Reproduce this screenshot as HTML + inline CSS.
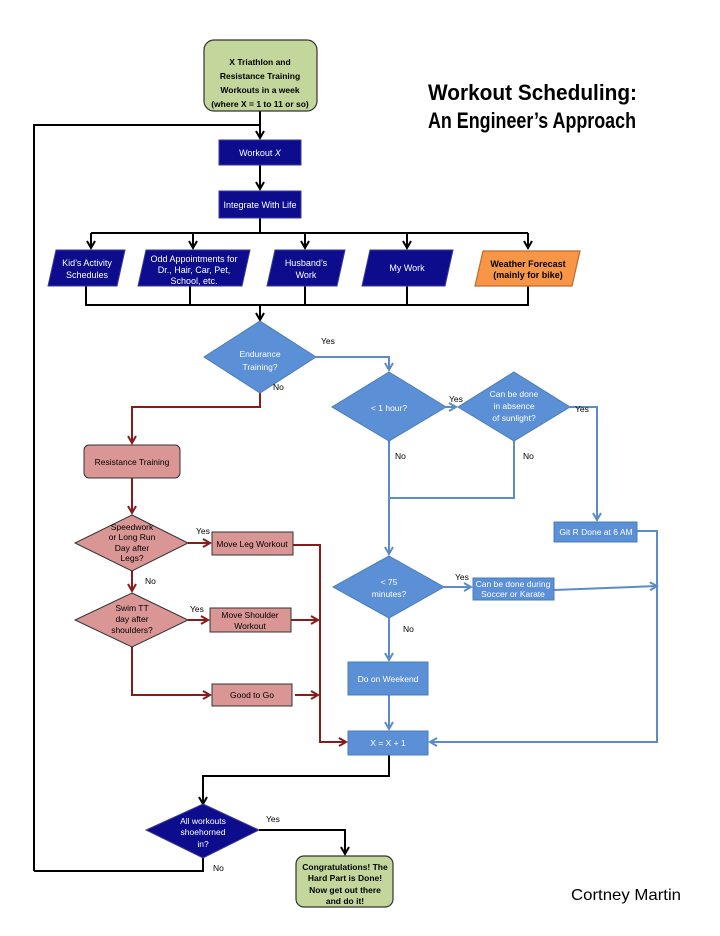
<!DOCTYPE html>
<html><head><meta charset="utf-8"><style>
html,body{margin:0;padding:0;background:#fff}
svg{display:block}
text{font-family:"Liberation Sans",sans-serif}
</style></head><body>
<svg width="720" height="936" viewBox="0 0 720 936" xmlns="http://www.w3.org/2000/svg">
<defs>
<marker id="ak" markerWidth="10" markerHeight="10" refX="8" refY="5" orient="auto" markerUnits="userSpaceOnUse"><path d="M1,1 L8,5 L1,9" fill="none" stroke="#000" stroke-width="2"/></marker>
<marker id="ar" markerWidth="10" markerHeight="10" refX="8" refY="5" orient="auto" markerUnits="userSpaceOnUse"><path d="M1,1 L8,5 L1,9" fill="none" stroke="#8b1a1a" stroke-width="2"/></marker>
<marker id="ab" markerWidth="10" markerHeight="10" refX="8" refY="5" orient="auto" markerUnits="userSpaceOnUse"><path d="M1,1 L8,5 L1,9" fill="none" stroke="#5b8bc9" stroke-width="2"/></marker>
</defs>

<!-- title -->
<text x="428" y="100" font-size="22" font-weight="bold" fill="#000" textLength="209" lengthAdjust="spacingAndGlyphs">Workout Scheduling:</text>
<text x="428" y="128" font-size="22" font-weight="bold" fill="#000" textLength="208" lengthAdjust="spacingAndGlyphs">An Engineer’s Approach</text>
<text x="571" y="900" font-size="16" fill="#000" textLength="110" lengthAdjust="spacingAndGlyphs">Cortney Martin</text>

<!-- black connectors -->
<g fill="none" stroke="#000" stroke-width="2">
<path d="M260,111 V138" marker-end="url(#ak)"/>
<path d="M34,871 V125 H260"/>
<path d="M260,165 V189" marker-end="url(#ak)"/>
<path d="M260,218 V233"/>
<path d="M91,233 H528"/>
<path d="M91,233 V248" marker-end="url(#ak)"/>
<path d="M193,233 V248" marker-end="url(#ak)"/>
<path d="M305,233 V248" marker-end="url(#ak)"/>
<path d="M407,233 V248" marker-end="url(#ak)"/>
<path d="M528,233 V248" marker-end="url(#ak)"/>
<path d="M86,286 V305 H528 V286"/>
<path d="M190,286 V305 M305,286 V305 M407,286 V305"/>
<path d="M260,305 V320" marker-end="url(#ak)"/>
<path d="M389,755 V776 H203 V804" marker-end="url(#ak)"/>
<path d="M259,830 H345 V854" marker-end="url(#ak)"/>
<path d="M203,858 V871 H34"/>
</g>

<!-- red connectors -->
<g fill="none" stroke="#8b1a1a" stroke-width="2">
<path d="M260,393 V407 H132 V443" marker-end="url(#ar)"/>
<path d="M132,478 V513" marker-end="url(#ar)"/>
<path d="M188,543 H210" marker-end="url(#ar)"/>
<path d="M132,571 V591" marker-end="url(#ar)"/>
<path d="M188,620 H208" marker-end="url(#ar)"/>
<path d="M132,647 V695 H210" marker-end="url(#ar)"/>
<path d="M293,545 H320 V742 H346" marker-end="url(#ar)"/>
<path d="M291,620 H318" marker-end="url(#ar)"/>
<path d="M295,695 H318" marker-end="url(#ar)"/>
</g>

<!-- blue connectors -->
<g fill="none" stroke="#5b8bc9" stroke-width="2">
<path d="M316,357 H389 V370" marker-end="url(#ab)"/>
<path d="M446,407 H456" marker-end="url(#ab)"/>
<path d="M570,407 H597 V520" marker-end="url(#ab)"/>
<path d="M389,441 V554" marker-end="url(#ab)"/>
<path d="M514,441 V498 H389"/>
<path d="M444,587 H471" marker-end="url(#ab)"/>
<path d="M554,590 L657,586" marker-end="url(#ab)"/>
<path d="M637,531 H657 V742 H430" marker-end="url(#ab)"/>
<path d="M389,618 V660" marker-end="url(#ab)"/>
<path d="M389,695 V729" marker-end="url(#ab)"/>
</g>

<!-- start box -->
<rect x="204" y="40" width="113" height="71" rx="10" fill="#c3d69b" stroke="#333" stroke-width="1.2"/>
<g font-size="8.5" font-weight="bold" text-anchor="middle" fill="#000">
<text x="260" y="65">X Triathlon and</text>
<text x="260" y="79">Resistance Training</text>
<text x="260" y="93">Workouts in a week</text>
<text x="260" y="107">(where X = 1 to 11 or so)</text>
</g>

<!-- dark blue boxes -->
<g fill="#0c0c8c" stroke="#3a3a9a" stroke-width="1">
<rect x="219" y="140" width="82" height="25"/>
<rect x="219" y="191" width="82" height="27"/>
<polygon points="56,250 125,250 117,286 48,286"/>
<polygon points="146,250 250,250 242,286 138,286"/>
<polygon points="275,250 345,250 337,286 267,286"/>
<polygon points="370,250 453,250 445,286 362,286"/>
</g>
<polygon points="483,251 580,251 572,286 475,286" fill="#f79646" stroke="#c0692a" stroke-width="1.2"/>
<g font-size="9" text-anchor="middle" fill="#fff">
<text x="260" y="156">Workout <tspan font-style="italic">X</tspan></text>
<text x="260" y="208">Integrate With Life</text>
<text x="87" y="266">Kid’s Activity</text>
<text x="87" y="278">Schedules</text>
<text x="194" y="262">Odd Appointments for</text>
<text x="194" y="273">Dr., Hair, Car, Pet,</text>
<text x="194" y="284">School, etc.</text>
<text x="306" y="266">Husband’s</text>
<text x="306" y="278">Work</text>
<text x="407" y="271">My Work</text>
</g>
<g font-size="9" font-weight="bold" text-anchor="middle" fill="#000">
<text x="528" y="267">Weather Forecast</text>
<text x="528" y="278">(mainly for bike)</text>
</g>

<!-- blue diamonds & boxes -->
<g fill="#5b8fd6" stroke="#4a7ebb" stroke-width="1">
<polygon points="260,321 316,357 260,393 204,357"/>
<polygon points="389,372 446,407 389,441 332,407"/>
<polygon points="514,372 570,407 514,441 458,407"/>
<polygon points="389,556 444,587 389,618 333,587"/>
<rect x="554" y="522" width="83" height="20"/>
<rect x="473" y="578" width="81" height="22"/>
<rect x="348" y="662" width="80" height="33"/>
<rect x="348" y="731" width="80" height="24"/>
</g>
<g font-size="8.5" text-anchor="middle" fill="#fff">
<text x="260" y="357">Endurance</text>
<text x="260" y="370">Training?</text>
<text x="389" y="411">&lt; 1 hour?</text>
<text x="514" y="397">Can be done</text>
<text x="514" y="409">in absence</text>
<text x="514" y="421">of sunlight?</text>
<text x="389" y="585">&lt; 75</text>
<text x="389" y="597">minutes?</text>
<text x="596" y="535">Git R Done at 6 AM</text>
<text x="513" y="587">Can be done during</text>
<text x="513" y="597">Soccer or Karate</text>
<text x="388" y="682">Do on Weekend</text>
<text x="388" y="746">X = X + 1</text>
</g>

<!-- red shapes -->
<g fill="#d99694" stroke="#333" stroke-width="1">
<rect x="84" y="445" width="96" height="33" rx="5"/>
<polygon points="132,515 188,543 132,571 75,543"/>
<polygon points="132,593 188,620 132,647 75,620"/>
<rect x="212" y="532" width="81" height="23"/>
<rect x="210" y="608" width="81" height="24"/>
<rect x="212" y="684" width="80" height="22"/>
</g>
<g font-size="8.5" text-anchor="middle" fill="#000">
<text x="132" y="465">Resistance Training</text>
<text x="132" y="530">Speedwork</text>
<text x="132" y="540">or Long Run</text>
<text x="132" y="551">Day after</text>
<text x="132" y="561">Legs?</text>
<text x="132" y="611">Swim TT</text>
<text x="132" y="622">day after</text>
<text x="132" y="633">shoulders?</text>
<text x="252" y="547">Move Leg Workout</text>
<text x="250" y="618">Move Shoulder</text>
<text x="250" y="629">Workout</text>
<text x="252" y="698">Good to Go</text>
</g>

<!-- final diamond -->
<polygon points="203,804 259,830 203,858 146,830" fill="#0c0c8c" stroke="#3a3a9a"/>
<g font-size="8.5" text-anchor="middle" fill="#fff">
<text x="203" y="824">All workouts</text>
<text x="203" y="835">shoehorned</text>
<text x="203" y="847">in?</text>
</g>
<rect x="296" y="856" width="97" height="51" rx="8" fill="#c3d69b" stroke="#333" stroke-width="1.2"/>
<g font-size="8.5" font-weight="bold" text-anchor="middle" fill="#000">
<text x="345" y="870">Congratulations!  The</text>
<text x="345" y="881">Hard Part is Done!</text>
<text x="345" y="893">Now get out there</text>
<text x="345" y="904">and do it!</text>
</g>

<!-- labels -->
<g font-size="8.5" fill="#000">
<text x="321" y="344">Yes</text>
<text x="273" y="390">No</text>
<text x="449" y="402">Yes</text>
<text x="575" y="412">Yes</text>
<text x="395" y="459">No</text>
<text x="523" y="459">No</text>
<text x="196" y="534">Yes</text>
<text x="145" y="584">No</text>
<text x="190" y="612">Yes</text>
<text x="455" y="580">Yes</text>
<text x="403" y="632">No</text>
<text x="266" y="822">Yes</text>
<text x="213" y="871">No</text>
</g>
</svg>
</body></html>
